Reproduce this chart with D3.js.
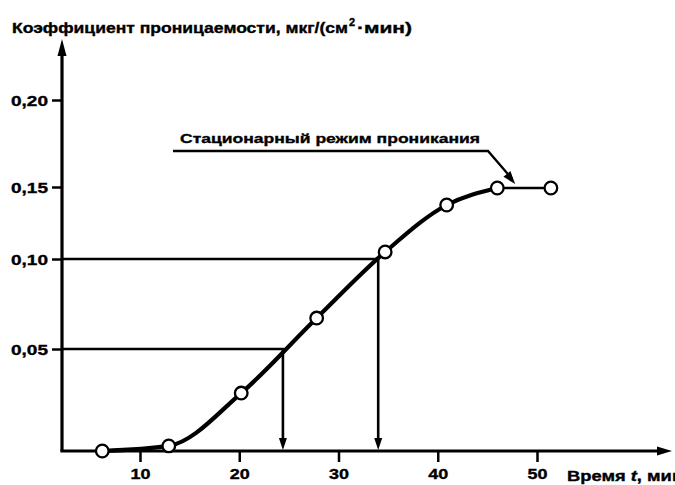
<!DOCTYPE html>
<html><head><meta charset="utf-8">
<script src="https://cdn.jsdelivr.net/npm/d3@7"></script>
<style>body{margin:0;background:#fff}svg{display:block}text{font-family:"Liberation Sans",Arial,sans-serif;font-weight:bold;fill:#000;stroke:#000;stroke-width:0.35px}</style>
</head><body><svg id="c" width="675" height="485"></svg>
<script>
// ---- data ----
const timeMin = [6.2, 12.9, 20.2, 27.8, 34.7, 40.9, 46.0, 51.4];
const permeability = [0.0, 0.0025, 0.0284, 0.0672, 0.1049, 0.1375, 0.1493, 0.1493];
const yTicks = [0.05, 0.10, 0.15, 0.20];
const xTicks = [10, 20, 30, 40, 50];
const guideLevels = [0.05, 0.10];
const guideTimes = [24.4, 34.0];
const titleMain = "Коэффициент проницаемости, мкг/(см";
const titleSup = "2";
const titleEnd = "·мин)";
const xLabel = "Время ";
const xLabelVar = "t";
const xLabelEnd = ", мин";
const noteText = "Стационарный режим проникания";
const noteTarget = [47.8, 0.1493];

const svg = d3.select("#c");
const x = d3.scaleLinear().domain([10, 50]).range([140, 537]);
// the printed figure has uneven tick spacing: map each tick to its drawn position
const y = d3.scaleLinear().domain([0, 0.05, 0.10, 0.15, 0.20]).range([451, 349, 259, 187, 100]);
const x0 = 62, y0 = 451;
const fmt = d => d3.format(".2f")(d).replace(".", ",");

// axes ticks via d3.axis
const gy = svg.append("g").attr("transform", `translate(${x0},0)`)
  .call(d3.axisLeft(y).tickValues(yTicks).tickSize(10).tickFormat(fmt));
gy.select(".domain").remove();
gy.selectAll(".tick line").attr("stroke", "#000").attr("stroke-width", 2.5);
gy.selectAll(".tick text").attr("x", -14).attr("font-size", 15).attr("dy", "0.35em")
  .attr("textLength", 37).attr("lengthAdjust", "spacingAndGlyphs").attr("fill", "#000")
  .style("font-family", '"Liberation Sans",Arial,sans-serif').style("font-weight", "bold");

const gx = svg.append("g").attr("transform", `translate(0,${y0})`)
  .call(d3.axisBottom(x).tickValues(xTicks).tickSize(11).tickFormat(d3.format("d")));
gx.select(".domain").remove();
gx.selectAll(".tick line").attr("stroke", "#000").attr("stroke-width", 2.5);
gx.selectAll(".tick text").attr("y", 17).attr("dy", "0.71em").attr("font-size", 15)
  .attr("textLength", 20).attr("lengthAdjust", "spacingAndGlyphs").attr("fill", "#000")
  .style("font-family", '"Liberation Sans",Arial,sans-serif').style("font-weight", "bold");

// axis lines with arrowheads
svg.append("line").attr("x1", x0).attr("y1", y0).attr("x2", x0).attr("y2", 50)
  .attr("stroke", "#000").attr("stroke-width", 3.2);
svg.append("path").attr("d", `M${x0},39 L${x0-4.5},56 L${x0+4.5},56 Z`).attr("fill", "#000");
svg.append("line").attr("x1", x0-1.6).attr("y1", y0).attr("x2", 662).attr("y2", y0)
  .attr("stroke", "#000").attr("stroke-width", 3.2);
svg.append("path").attr("d", `M672,${y0} L657,${y0-4.5} L657,${y0+4.5} Z`).attr("fill", "#000");

// guide lines and arrows
guideLevels.forEach((lv, i) => {
  const gxp = x(guideTimes[i]), gyp = y(lv);
  svg.append("path").attr("d", `M${x0},${gyp} H${gxp} V${y0-10}`)
    .attr("fill", "none").attr("stroke", "#000").attr("stroke-width", 2.6);
  svg.append("path").attr("d", `M${gxp},${y0-1} L${gxp-4},${y0-13} L${gxp+4},${y0-13} Z`).attr("fill", "#000");
});

// curve
const pts = timeMin.map((t, i) => [t, permeability[i]]);
const line = d3.line().x(d => x(d[0])).y(d => y(d[1])).curve(d3.curveMonotoneX);
svg.append("path").attr("d", line(pts.slice(0, 7))).attr("fill", "none")
  .attr("stroke", "#000").attr("stroke-width", 4.2).attr("stroke-linecap", "round");
svg.append("path").attr("d", d3.line().x(d => x(d[0])).y(d => y(d[1]))(pts.slice(6)))
  .attr("fill", "none").attr("stroke", "#000").attr("stroke-width", 2.4);

svg.append("g").selectAll("circle").data(pts).join("circle")
  .attr("cx", d => x(d[0])).attr("cy", d => y(d[1])).attr("r", 6.3)
  .attr("fill", "#fff").attr("stroke", "#000").attr("stroke-width", 2.3);

// annotation
const tipX = x(noteTarget[0]), tipY = y(noteTarget[1]) - 4;
svg.append("path").attr("d", `M173,151 H488 L${tipX-3},${tipY-5}`)
  .attr("fill", "none").attr("stroke", "#000").attr("stroke-width", 2.4);
{
  const ang = Math.atan2(tipY - 151, tipX - 488);
  const L = 13, W = 4.5;
  const bx = tipX - L * Math.cos(ang), by = tipY - L * Math.sin(ang);
  const px = -Math.sin(ang) * W, py = Math.cos(ang) * W;
  svg.append("path").attr("d", `M${tipX},${tipY} L${bx+px},${by+py} L${bx-px},${by-py} Z`).attr("fill", "#000");
}
svg.append("text").attr("x", 180).attr("y", 143).attr("font-size", 13.5)
  .attr("textLength", 300).attr("lengthAdjust", "spacingAndGlyphs").text(noteText);

// title
svg.append("text").attr("x", 12).attr("y", 33).attr("font-size", 14.5)
  .attr("textLength", 336).attr("lengthAdjust", "spacingAndGlyphs").text(titleMain);
svg.append("text").attr("x", 349).attr("y", 26).attr("font-size", 11).text(titleSup);
svg.append("text").attr("x", 357).attr("y", 33).attr("font-size", 14.5)
  .attr("textLength", 55).attr("lengthAdjust", "spacingAndGlyphs").text(titleEnd);

// x axis label
const xl = svg.append("text").attr("x", 567).attr("y", 481).attr("font-size", 14.5)
  .attr("textLength", 116).attr("lengthAdjust", "spacingAndGlyphs");
xl.append("tspan").text(xLabel);
xl.append("tspan").style("font-style", "italic").text(xLabelVar);
xl.append("tspan").text(xLabelEnd);
</script></body></html>
